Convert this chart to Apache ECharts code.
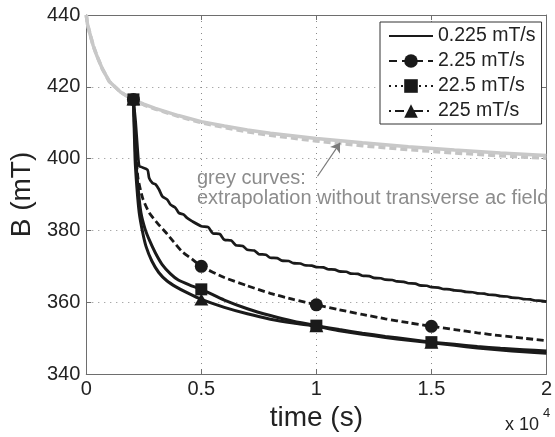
<!DOCTYPE html>
<html><head><meta charset="utf-8">
<script src="https://cdn.jsdelivr.net/npm/echarts/dist/echarts.min.js"></script>
<style>html,body{margin:0;padding:0;background:#fff}#c{width:555px;height:437px}</style>
</head><body><div id="c"></div>
<script>
// ---- data ----
const greyTime   = [0, 50, 150, 300, 450, 700, 1000, 1500, 2000, 2500, 3000, 4000, 5000, 6000, 7000, 8000, 10000, 12000, 14000, 16000, 18000, 20000];
const greySolid  = [440, 437.5, 435, 431.5, 428.8, 425, 421.5, 418.5, 416.6, 415.2, 414, 412, 410.3, 409.1, 408, 407.1, 405.6, 404.4, 403.3, 402.4, 401.6, 400.9];
const greyDashed = [440, 437.5, 435, 431.5, 428.8, 425, 421.5, 418.5, 416.5, 415, 413.8, 411.8, 410, 408.7, 407.5, 406.5, 404.9, 403.6, 402.5, 401.6, 400.8, 400.1];

// 0.225 mT/s (wavy, stepwise decay)
const time0225 = [2050, 2150, 2250, 2300, 2375, 2660, 2733, 2876, 3019, 3162, 3305, 3519, 3662, 3877, 4020, 4235, 4378, 4592,
  5000, 5300, 5500, 5800, 6000, 6300, 6500, 6800, 7000, 7300, 7500, 7800, 8000, 8300, 8500, 8800, 9000, 9300, 9500, 9800,
  10000, 10300, 10500, 10800, 11000, 11300, 11500, 11800, 12000, 12300, 12500, 12800, 13000, 13300, 13500, 13800, 14000, 14300, 14500, 14800,
  15000, 15300, 15500, 15800, 16000, 16300, 16500, 16800, 17000, 17300, 17500, 17800, 18000, 18300, 18500, 18800, 19000, 19300, 19500, 19800, 20000];
const field0225 = [416.5, 410, 401, 398, 397.7, 396.9, 394.6, 393.2, 392.8, 391.4, 389.5, 388.6, 387.2, 386.3, 384.9, 384.4, 383.5, 382.6,
  381.2, 380.9, 379.2, 379.0, 377.4, 377.2, 375.9, 375.7, 374.6, 374.4, 373.4, 373.25, 372.4, 372.3, 371.6, 371.5, 370.9, 370.8, 370.3, 370.2,
  369.8, 369.7, 369.2, 369.1, 368.6, 368.5, 368.0, 367.9, 367.4, 367.3, 366.8, 366.7, 366.3, 366.2, 365.8, 365.7, 365.3, 365.2, 364.7, 364.6,
  364.2, 364.1, 363.7, 363.6, 363.3, 363.2, 362.9, 362.8, 362.5, 362.4, 362.1, 362.0, 361.7, 361.6, 361.3, 361.2, 360.9, 360.8, 360.5, 360.4, 360.2];

// 2.25 mT/s
const time225 = [2050, 2150, 2250, 2450, 2730, 3100, 3450, 3800, 4150, 4600, 5000, 6000, 7000, 8000, 9000, 10000, 11000, 12000, 13000, 14000, 15000, 16000, 17000, 18000, 19000, 20000];
const field225 = [416.5, 402, 394.5, 389, 385, 382, 379.5, 376.8, 374.2, 372, 370, 366.9, 364.6, 362.5, 360.8, 359.3, 357.9, 356.6, 355.4, 354.3, 353.3, 352.4, 351.5, 350.7, 350, 349.3];

// 22.5 mT/s
const time22_5 = [2050, 2150, 2250, 2375, 2550, 2730, 3000, 3300, 3650, 4000, 4500, 5000, 6000, 7000, 8000, 9000, 10000, 11000, 12000, 13000, 14000, 15000, 16000, 17000, 18000, 19000, 20000];
const field22_5 = [416.5, 400, 392, 385, 380.5, 377.5, 373.8, 370.5, 368, 366.2, 364.8, 363.6, 360.6, 358.2, 356.3, 354.7, 353.5, 352.4, 351.4, 350.5, 349.7, 348.9, 348.3, 347.7, 347.2, 346.8, 346.4];

// 225 mT/s
const time225b = [2050, 2120, 2200, 2300, 2450, 2600, 2850, 3150, 3500, 3900, 4400, 5000, 6000, 7000, 8000, 9000, 10000, 11000, 12000, 13000, 14000, 15000, 16000, 17000, 18000, 19000, 20000];
const field225b = [416.5, 400, 392, 385, 379.5, 375.5, 371.5, 368.3, 366, 364.3, 362.6, 360.8, 358.6, 356.8, 355.3, 354.2, 353.3, 352.1, 351.1, 350.2, 349.4, 348.7, 348, 347.3, 346.7, 346.2, 345.8];

const markerTimes = [2050, 5000, 10000, 15000];
const legendNames = ['0.225 mT/s', '2.25 mT/s', '22.5 mT/s', '225 mT/s'];
const arrowFrom = [10050, 395.1];
const arrowTo = [11030, 404.4];
const annotationLines = ['grey curves:', 'extrapolation without transverse ac field'];

// ---- helpers ----
const pairs = (ts, vs) => ts.map((t, i) => [t, vs[i]]);
const markersOf = (ts, vs) => markerTimes.map(t => [t, vs[ts.indexOf(t)]]);

const FAM = 'Liberation Sans';
const INK = '#1a1a1a';
const AX = '#6e6e6e';

const chart = echarts.init(document.getElementById('c'), null, {renderer: 'canvas'});

const axisCommon = {
  axisLine: {show: true, onZero: false, lineStyle: {color: AX, width: 1}},
  axisTick: {show: true, inside: true, length: 5, lineStyle: {color: AX, width: 1}},
};

const option = {
  animation: false,
  backgroundColor: '#fff',
  textStyle: {fontFamily: FAM},
  grid: {left: 83, right: 6, top: 15, bottom: 62, containLabel: false},
  xAxis: [
    Object.assign({
      type: 'value', min: 0, max: 20000, interval: 5000,
      axisLabel: {formatter: v => String(v / 10000), fontSize: 20, color: '#222', margin: 5, fontFamily: FAM},
      splitLine: {show: true, lineStyle: {color: '#8a8a8a', width: 1, type: [1, 5]}},
      name: 'time (s)', nameLocation: 'middle', nameGap: 23,
      nameTextStyle: {fontSize: 28, color: '#222', fontFamily: FAM}
    }, axisCommon),
    Object.assign({
      type: 'value', position: 'top', min: 0, max: 20000, interval: 5000,
      axisLabel: {show: false}, splitLine: {show: false}
    }, axisCommon)
  ],
  yAxis: [
    Object.assign({
      type: 'value', min: 340, max: 440, interval: 20,
      axisLabel: {fontSize: 20, color: '#222', margin: 6, fontFamily: FAM},
      splitLine: {show: true, lineStyle: {color: '#8a8a8a', width: 1, type: [1, 5]}},
      name: 'B (mT)', nameLocation: 'middle', nameGap: 47,
      nameTextStyle: {fontSize: 28, color: '#222', fontFamily: FAM}
    }, axisCommon),
    Object.assign({
      type: 'value', position: 'right', min: 340, max: 440, interval: 20,
      axisLabel: {show: false}, splitLine: {show: false}
    }, axisCommon)
  ],
  legend: {
    data: [
      {name: legendNames[0], itemStyle: {opacity: 0}},
      legendNames[1], legendNames[2], legendNames[3]
    ],
    orient: 'vertical', left: 380, top: 22,
    backgroundColor: '#fff', borderColor: '#333', borderWidth: 1,
    padding: [4, 6, 3, 8], itemGap: 5, itemWidth: 44, itemHeight: 17,
    textStyle: {fontSize: 19.5, color: '#222', fontFamily: FAM},
    selectedMode: false
  },
  graphic: [
    {type: 'text', left: 197, top: 168, z: 100,
     style: {text: annotationLines.join('\n'), fontSize: 20, fontFamily: FAM, fill: '#8c8c8c', lineHeight: 20}},
    {type: 'text', left: 505, top: 416, z: 100,
     style: {text: 'x 10', fontSize: 18, fontFamily: FAM, fill: '#222'}},
    {type: 'text', left: 543, top: 407, z: 100,
     style: {text: '4', fontSize: 13, fontFamily: FAM, fill: '#222'}}
  ],
  series: [
    {type: 'line', name: 'greyDashed', data: pairs(greyTime, greyDashed), showSymbol: false, symbol: 'none',
     lineStyle: {color: '#c4c4c4', width: 3.5, type: [7, 4]}, z: 2, silent: true},
    {type: 'line', name: 'greySolid', data: pairs(greyTime, greySolid), showSymbol: false, symbol: 'none',
     lineStyle: {color: '#c8c8c8', width: 3.5}, z: 3, silent: true,
     markLine: {silent: true, symbol: ['none', 'arrow'], symbolSize: 9, animation: false,
       lineStyle: {color: '#7a7a7a', width: 1.2, type: 'solid'}, label: {show: false},
       data: [[{coord: arrowFrom}, {coord: arrowTo}]]}},
    {type: 'line', name: 'c0225', data: pairs(time0225, field0225), showSymbol: false, symbol: 'none', smooth: 0.25,
     lineStyle: {color: INK, width: 2.7}, z: 4, silent: true},
    {type: 'line', name: 'c225', data: pairs(time225, field225), showSymbol: false, symbol: 'none', smooth: 0.2,
     lineStyle: {color: INK, width: 2.8, type: [7, 3.5]}, z: 4, silent: true},
    {type: 'line', name: 'c22_5', data: pairs(time22_5, field22_5), showSymbol: false, symbol: 'none', smooth: 0.2,
     lineStyle: {color: INK, width: 3}, z: 4, silent: true},
    {type: 'line', name: 'c225b', data: pairs(time225b, field225b), showSymbol: false, symbol: 'none', smooth: 0.2,
     lineStyle: {color: INK, width: 3}, z: 4, silent: true},
    {type: 'scatter', name: 'm225', data: markersOf(time225, field225), symbol: 'circle', symbolSize: 13,
     itemStyle: {color: INK, opacity: 1}, z: 5, silent: true},
    {type: 'scatter', name: 'm225b', data: markersOf(time225b, field225b), symbol: 'triangle', symbolSize: [14, 12],
     itemStyle: {color: INK, opacity: 1}, z: 5, silent: true},
    {type: 'scatter', name: 'm22_5', data: markersOf(time22_5, field22_5), symbol: 'rect', symbolSize: 12,
     itemStyle: {color: INK, opacity: 1}, z: 6, silent: true},
    {type: 'line', name: legendNames[0], data: [], symbol: 'circle', lineStyle: {color: INK, width: 3}, itemStyle: {color: INK}},
    {type: 'line', name: legendNames[1], data: [], symbol: 'circle', lineStyle: {color: INK, width: 3, type: [8, 5]}, itemStyle: {color: INK}},
    {type: 'line', name: legendNames[2], data: [], symbol: 'rect', lineStyle: {color: INK, width: 2, type: [2, 4]}, itemStyle: {color: INK}},
    {type: 'line', name: legendNames[3], data: [], symbol: 'triangle', lineStyle: {color: INK, width: 2.5, type: [2, 4, 9, 4]}, itemStyle: {color: INK}}
  ]
};
chart.setOption(option);
</script>
</body></html>
